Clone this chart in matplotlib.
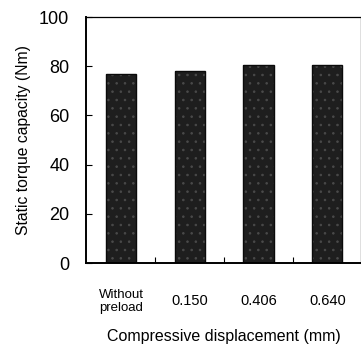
import matplotlib

matplotlib.use("Agg")
import matplotlib.pyplot as plt
import numpy as np

categories = ["Without\npreload", "0.150", "0.406", "0.640"]
torque = [77.0, 78.2, 80.5, 80.5]
y_ticks = [0, 20, 40, 60, 80, 100]

plt.rcParams["font.family"] = ["Liberation Sans", "DejaVu Sans"]
plt.rcParams["hatch.color"] = "#4a4a4a"
plt.rcParams["hatch.linewidth"] = 0.6

fig = plt.figure(figsize=(3.61, 3.58), dpi=100)
ax = fig.add_axes([86 / 361, 1 - 263 / 358, 275 / 361, 246 / 358])

x = np.arange(len(categories))
# dark speckled fill, then a crisp black outline on top
ax.bar(x, torque, width=0.44, color="#1e1e1e", hatch="..", linewidth=0)
ax.bar(x, torque, width=0.44, fill=False, edgecolor="#0a0a0a", linewidth=1.0)

ax.set_xlim(-0.51, 3.49)
ax.set_ylim(0, 100)
ax.set_yticks(y_ticks)
ax.tick_params(axis="y", direction="in", length=4, labelsize=13, pad=12)
ax.set_xticks(x[:-1] + 0.5)
ax.set_xticklabels([])
ax.tick_params(axis="x", direction="in", length=4)

for xi, label in zip(x, categories):
    size = 9.5 if "\n" in label else 10.5
    ax.text(xi, -15.5, label, ha="center", va="center", fontsize=size,
            linespacing=1.1, clip_on=False)

ax.set_xlabel("Compressive displacement (mm)", fontsize=11.5, labelpad=44)
ax.set_ylabel("Static torque capacity (Nm)", fontsize=11.3, labelpad=6)

ax.spines["left"].set_linewidth(1.4)
ax.spines["bottom"].set_linewidth(1.4)
ax.spines["top"].set_linewidth(0.9)
ax.spines["right"].set_linewidth(0.9)

fig.savefig("out.png", dpi=100)
